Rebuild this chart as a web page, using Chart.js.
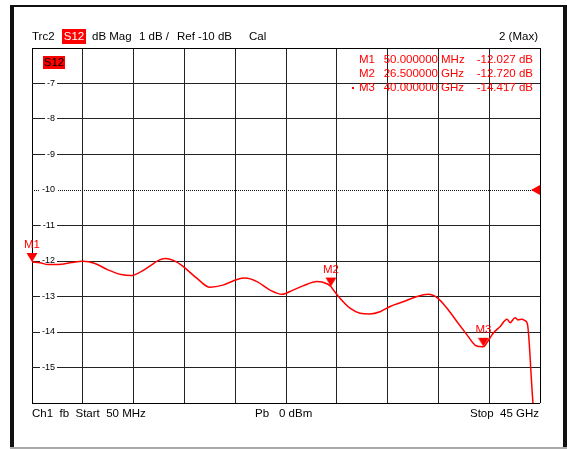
<!DOCTYPE html>
<html>
<head>
<meta charset="utf-8">
<script src="https://cdn.jsdelivr.net/npm/chart.js@4/dist/chart.umd.min.js"></script>
<style>
  body { margin: 0; background: #fff; }
  #wrap { width: 567px; height: 449px; }
</style>
</head>
<body>
<div id="wrap"><canvas id="myChart" width="567" height="449"></canvas></div>
<script>
// Data (frequency in GHz, magnitude in dB)
const traceFreq = [0.05, 0.76, 1.47, 2.62, 3.59, 4.56, 5.62, 6.77, 7.93, 8.81, 9.70, 10.58, 11.20, 11.82,
  12.61, 13.41, 14.65, 15.80, 16.95, 18.19, 18.90, 19.96, 21.11, 22.17, 23.14, 24.03, 25.27, 26.15,
  26.50, 26.68, 27.30, 28.19, 29.07, 29.96, 30.84, 31.73, 32.88, 34.12, 35.09, 35.97, 36.77, 37.66,
  38.54, 39.25, 39.69, 40.00, 40.31, 40.84, 41.46, 42.08, 42.35, 42.79, 43.05, 43.41, 43.67, 43.89, 44.38, 44.42];
const traceDb = [-12.03, -12.05, -12.10, -12.09, -12.04, -12.01, -12.07, -12.25, -12.38, -12.41, -12.30, -12.12, -11.99, -11.93,
  -11.99, -12.15, -12.49, -12.74, -12.68, -12.52, -12.48, -12.58, -12.82, -12.94, -12.82, -12.70, -12.58, -12.64,
  -12.72, -12.80, -13.05, -13.33, -13.47, -13.49, -13.43, -13.28, -13.15, -13.00, -12.94, -13.05, -13.33, -13.71,
  -14.08, -14.37, -14.41, -14.417, -14.30, -14.04, -13.85, -13.64, -13.74, -13.60, -13.66, -13.64, -13.68, -13.78, -16.0, -16.1];

const markerNames = ['M1', 'M2', 'M3'];
const markerFreq = [0.05, 26.5, 40.0];
const markerDb = [-12.027, -12.720, -14.417];
const markerFreqText = ['50.000000', '26.500000', '40.000000'];
const markerUnit = ['MHz', 'GHz', 'GHz'];
const markerDbText = ['-12.027 dB', '-12.720 dB', '-14.417 dB'];

const startGHz = 0.05, stopGHz = 45;
const yMin = -16, yMax = -6, refLevel = -10;
const xDivisions = 10;

const FONT = '"Liberation Sans", Arial, sans-serif';
const RED = '#ff0000';

// marker triangle, tip sits on the data point
const tri = document.createElement('canvas');
tri.width = 12; tri.height = 20;
(function () {
  const c = tri.getContext('2d');
  c.fillStyle = RED;
  c.beginPath();
  c.moveTo(0.5, 1); c.lineTo(11.5, 1); c.lineTo(6, 10); c.closePath();
  c.fill();
})();

function gridColor(ctx, lastIndex) {
  if (!ctx.tick) return '#000';
  if (ctx.index === 0 || ctx.index === lastIndex) return '#000';
  return '#222';
}

const overlay = {
  id: 'overlay',
  beforeDraw(chart) {
    const c = chart.ctx;
    c.save();
    c.fillStyle = '#fff';
    c.fillRect(0, 0, chart.width, chart.height);
    c.fillStyle = '#111';
    c.fillRect(10, 5, 4, 444);     // left edge of the window
    c.fillRect(10, 5, 557, 2);     // top edge
    c.fillRect(563, 5, 4, 444);    // right edge
    c.fillStyle = '#aaa';
    c.fillRect(10, 447, 557, 2);   // bottom edge
    c.restore();
  },
  afterDraw(chart) {
    const c = chart.ctx;
    const area = chart.chartArea;
    const ys = chart.scales.y;
    c.save();
    c.font = '11.5px ' + FONT;
    c.textBaseline = 'middle';

    // header line
    c.fillStyle = '#000';
    c.textAlign = 'left';
    c.fillText('Trc2', 32, 37);
    c.fillStyle = RED;
    c.fillRect(62, 29, 24, 15);
    c.fillStyle = '#fff';
    c.textAlign = 'center';
    c.fillText('S12', 74, 37);
    c.fillStyle = '#000';
    c.textAlign = 'left';
    c.fillText('dB Mag', 92, 37);
    c.fillText('1 dB /', 139, 37);
    c.fillText('Ref -10 dB', 177, 37);
    c.fillText('Cal', 249, 37);
    c.textAlign = 'right';
    c.fillText('2 (Max)', 538, 37);

    // footer line
    c.textAlign = 'left';
    c.fillText('Ch1  fb  Start  50 MHz', 32, 414);
    c.fillText('Pb', 255, 414);
    c.fillText('0 dBm', 279, 414);
    c.textAlign = 'right';
    c.fillText('Stop  45 GHz', 539, 414);

    // trace label box in plot
    c.fillStyle = RED;
    c.fillRect(43, 56, 22, 13);
    c.fillStyle = '#000';
    c.textAlign = 'center';
    c.fillText('S12', 54, 63);

    // marker table
    c.fillStyle = RED;
    for (let i = 0; i < markerNames.length; i++) {
      const y = 60 + i * 14;
      c.textAlign = 'left';
      c.fillText(markerNames[i], 359, y);
      c.textAlign = 'right';
      c.fillText(markerFreqText[i], 438, y);
      c.textAlign = 'left';
      c.fillText(markerUnit[i], 441, y);
      c.textAlign = 'right';
      c.fillText(markerDbText[i], 533, y);
    }
    c.fillRect(352, 87, 2, 2); // active marker dot

    // marker names above the triangles
    const meta = chart.getDatasetMeta(0);
    c.textAlign = 'center';
    meta.data.forEach((pt, i) => {
      c.fillText(markerNames[i], pt.x, pt.y - 17);
    });

    // reference level arrow on the right edge
    const ry = ys.getPixelForValue(refLevel);
    c.beginPath();
    c.moveTo(area.right - 9, ry);
    c.lineTo(area.right, ry - 5);
    c.lineTo(area.right, ry + 5);
    c.closePath();
    c.fill();
    c.restore();
  }
};

const config = {
  type: 'line',
  data: {
    datasets: [{
      label: 'Markers',
      data: markerFreq.map((f, i) => ({x: f, y: markerDb[i]})),
      showLine: false,
      pointStyle: tri,
      pointRadius: 6,
      clip: false
    }, {
      label: 'S12',
      data: traceFreq.map((f, i) => ({x: f, y: traceDb[i]})),
      borderColor: RED,
      borderWidth: 1.5,
      pointRadius: 0,
      fill: false,
      cubicInterpolationMode: 'monotone'
    }]
  },
  options: {
    responsive: false,
    animation: false,
    layout: { padding: { left: 32, right: 27, top: 48, bottom: 46 } },
    plugins: { legend: { display: false }, tooltip: { enabled: false } },
    scales: {
      x: {
        type: 'linear',
        min: startGHz,
        max: stopGHz,
        afterBuildTicks: s => {
          const step = (stopGHz - startGHz) / xDivisions;
          s.ticks = Array.from({length: xDivisions + 1}, (_, i) => ({value: startGHz + i * step}));
        },
        afterFit: s => { s.height = 0; },
        ticks: { display: false },
        grid: { drawTicks: false, color: ctx => gridColor(ctx, xDivisions), lineWidth: 1 },
        border: { display: false }
      },
      y: {
        type: 'linear',
        min: yMin,
        max: yMax,
        afterFit: s => { s.width = 0; },
        ticks: {
          stepSize: 1,
          mirror: true,
          crossAlign: 'far',
          padding: 10,
          color: '#000',
          font: { family: FONT, size: 9 },
          callback: v => (v === yMin || v === yMax) ? '' : String(v),
          showLabelBackdrop: ctx => !!ctx.tick && ctx.tick.value !== yMin && ctx.tick.value !== yMax,
          backdropColor: '#fff',
          backdropPadding: 2
        },
        grid: {
          drawTicks: false,
          lineWidth: 1,
          color: ctx => (ctx.tick && ctx.tick.value === refLevel) ? '#111' : gridColor(ctx, yMax - yMin)
        },
        border: {
          display: false,
          dash: ctx => (ctx.tick && ctx.tick.value === refLevel) ? [1, 1] : []
        }
      }
    }
  },
  plugins: [overlay]
};

const myChart = new Chart(document.getElementById('myChart'), config);
</script>
</body>
</html>
